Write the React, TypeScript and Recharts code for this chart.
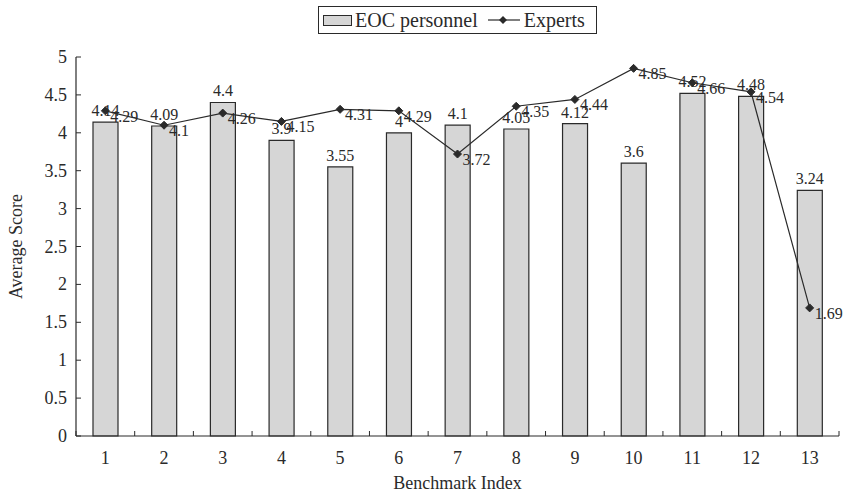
import React from 'react';
import { ComposedChart, Bar, Line, XAxis, YAxis, LabelList } from 'recharts';

const categories = ['1', '2', '3', '4', '5', '6', '7', '8', '9', '10', '11', '12', '13'];
const eocPersonnel = [4.14, 4.09, 4.4, 3.9, 3.55, 4, 4.1, 4.05, 4.12, 3.6, 4.52, 4.48, 3.24];
const experts = [4.29, 4.1, 4.26, 4.15, 4.31, 4.29, 3.72, 4.35, 4.44, 4.85, 4.66, 4.54, 1.69];
const yTicks = [0, 0.5, 1, 1.5, 2, 2.5, 3, 3.5, 4, 4.5, 5];
const yTickLabels = ['0', '0.5', '1', '1.5', '2', '2.5', '3', '3.5', '4', '4.5', '5'];

const data = categories.map((c, i) => ({ name: c, eoc: eocPersonnel[i], experts: experts[i] }));

const FONT = '"Liberation Serif", "DejaVu Serif", serif';
const W = 847;
const H = 497;
const MARGIN = { top: 57, right: 8, bottom: 6, left: 0 };
const Y_AXIS_W = 76;
const X_AXIS_H = 55;
const PLOT_W = W - MARGIN.left - MARGIN.right - Y_AXIS_W;
const BAND = PLOT_W / categories.length;
const INK = '#2a2a2a';

const YTick = (props: any) => {
  const { x, y, payload } = props;
  const idx = yTicks.indexOf(payload.value);
  return (
    <g>
      <line x1={x} x2={x + 5} y1={y} y2={y} stroke={INK} strokeWidth={1} />
      <text x={x - 9} y={y} dy={6} textAnchor="end" fontSize={18} fontFamily={FONT} fill={INK}>
        {idx >= 0 ? yTickLabels[idx] : payload.value}
      </text>
    </g>
  );
};

const XTick = (props: any) => {
  const { x, y, payload, index } = props;
  const last = index === categories.length - 1;
  return (
    <g>
      <line x1={x - BAND / 2} x2={x - BAND / 2} y1={y} y2={y - 5} stroke={INK} strokeWidth={1} />
      {last && <line x1={x + BAND / 2} x2={x + BAND / 2} y1={y} y2={y - 5} stroke={INK} strokeWidth={1} />}
      <text x={x} y={y} dy={28} textAnchor="middle" fontSize={18} fontFamily={FONT} fill={INK}>
        {payload.value}
      </text>
    </g>
  );
};

const Diamond = (props: any) => {
  const { cx, cy } = props;
  if (cx == null || cy == null) return null;
  const r = 4;
  return (
    <polygon
      key={`d-${cx}-${cy}`}
      points={`${cx},${cy - r} ${cx + r},${cy} ${cx},${cy + r} ${cx - r},${cy}`}
      fill={INK}
      stroke={INK}
    />
  );
};

const LineLabel = (props: any) => {
  const { x, y, value } = props;
  return (
    <text x={x + 5} y={y} dy={11} fontSize={16} fontFamily={FONT} fill={INK} textAnchor="start">
      {value}
    </text>
  );
};

const Legend = () => (
  <div
    style={{
      position: 'absolute',
      left: 318,
      top: 6,
      width: 279,
      height: 28,
      boxSizing: 'border-box',
      border: `1px solid ${INK}`,
      display: 'flex',
      alignItems: 'center',
      fontFamily: FONT,
      fontSize: 20,
      color: INK,
      background: '#fff',
      whiteSpace: 'nowrap',
    }}
  >
    <div style={{ width: 29, height: 11, marginLeft: 4, background: '#d6d6d6', border: `1px solid ${INK}`, boxSizing: 'border-box' }} />
    <span style={{ marginLeft: 3 }}>EOC personnel</span>
    <svg width={32} height={12} style={{ marginLeft: 10 }}>
      <line x1={0} x2={32} y1={6} y2={6} stroke={INK} strokeWidth={1.2} />
      <polygon points="15,2 19,6 15,10 11,6" fill={INK} />
    </svg>
    <span style={{ marginLeft: 4 }}>Experts</span>
  </div>
);

export default function App() {
  return (
    <div style={{ position: 'absolute', left: 0, top: 0, width: W, height: H, overflow: 'hidden', background: '#fff' }}>
      <ComposedChart width={W} height={H} data={data} margin={MARGIN}>
        <XAxis
          dataKey="name"
          height={X_AXIS_H}
          axisLine={{ stroke: INK, strokeWidth: 1.2 }}
          tickLine={false}
          tickSize={0}
          tickMargin={0}
          tick={<XTick />}
          interval={0}
          label={{ value: 'Benchmark Index', position: 'insideBottom', offset: 2, fontSize: 18, fontFamily: FONT, fill: INK }}
        />
        <YAxis
          width={Y_AXIS_W}
          domain={[0, 5]}
          ticks={yTicks}
          axisLine={{ stroke: INK, strokeWidth: 1.2 }}
          tickLine={false}
          tickSize={0}
          tickMargin={0}
          tick={<YTick />}
          label={{ value: 'Average Score', angle: -90, position: 'insideLeft', offset: 16, fontSize: 18, fontFamily: FONT, fill: INK, style: { textAnchor: 'middle' } }}
        />
        <Bar dataKey="eoc" barSize={25} fill="#d6d6d6" stroke={INK} strokeWidth={1.2} isAnimationActive={false}>
          <LabelList dataKey="eoc" position="top" offset={6} fontSize={16} fontFamily={FONT} fill={INK} />
        </Bar>
        <Line
          dataKey="experts"
          stroke={INK}
          strokeWidth={1.2}
          dot={<Diamond />}
          activeDot={false}
          isAnimationActive={false}
        >
          <LabelList dataKey="experts" content={<LineLabel />} />
        </Line>
      </ComposedChart>
      <Legend />
    </div>
  );
}
